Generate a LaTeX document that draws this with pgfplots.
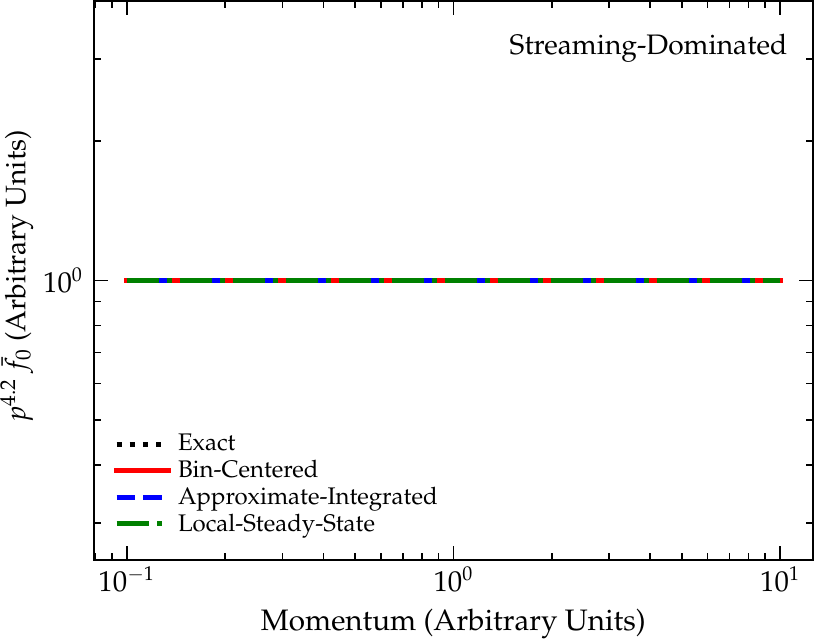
\documentclass[border=0pt]{standalone}
\usepackage[T1]{fontenc}
\usepackage{mathpazo}
\usepackage{pgfplots}
\pgfplotsset{compat=1.18}
\usetikzlibrary{calc}
\definecolor{mplgreen}{RGB}{0,128,0}

\begin{document}
\begin{tikzpicture}
\begin{axis}[
  name=ax,
  scale only axis,
  width=359.5pt, height=279.5pt,
  xmode=log, ymode=log,
  xmin=0.0794, xmax=12.59,
  ymin=0.25, ymax=4,
  xtick={0.1,1,10},
  minor xtick={0.08,0.09,0.2,0.3,0.4,0.5,0.6,0.7,0.8,0.9,2,3,4,5,6,7,8,9},
  ytick={1},
  minor ytick={0.3,0.4,0.5,0.6,0.7,0.8,0.9,2,3},
  tick align=inside,
  xtick pos=both, ytick pos=both,
  major tick length=7pt, minor tick length=3.5pt,
  every tick/.style={black, line width=0.8pt},
  axis line style={line width=1pt},
  ticklabel style={font=\fontsize{14.4}{17}\selectfont},
  yticklabel style={xshift=-2pt},
  xlabel style={font=\fontsize{14.8}{17}\selectfont, yshift=-1.6pt},
  ylabel style={font=\fontsize{14.1}{17}\selectfont, yshift=-2pt, xshift=2pt},
  xlabel={Momentum (Arbitrary Units)},
  ylabel={$p^{4.2}\,\bar{f}_0$ (Arbitrary Units)},
  legend style={at={(0.019,0.031)}, anchor=south west, draw=none, fill=none,
    font=\fontsize{12}{14}\selectfont, cells={anchor=west}, row sep=-0.8pt},
  legend image code/.code={\draw[#1] (0pt,0pt) -- (26pt,0pt); \path (27.5pt,0pt);},
]
\addplot[black, line width=2.5pt, dash pattern=on 2.5pt off 4.1pt] coordinates {(0.1,1) (10,1)};
\addlegendentry{Exact}
\addplot[red, line width=2.5pt, line cap=rect] coordinates {(0.1,1) (10,1)};
\addlegendentry{Bin-Centered}
\addplot[blue, line width=2.5pt, dash pattern=on 9.25pt off 4pt] coordinates {(0.1,1) (10,1)};
\addlegendentry{Approximate-Integrated}
\addplot[mplgreen, line width=2.5pt, dash pattern=on 16.15pt off 4.15pt on 2.35pt off 3.85pt] coordinates {(0.1,1) (10,1)};
\addlegendentry{Local-Steady-State}
\node[anchor=base east, inner sep=0pt, font=\fontsize{14.1}{17}\selectfont] at (rel axis cs:0.965,0.905) {Streaming-Dominated};
\end{axis}
\pgfresetboundingbox
\path[use as bounding box] ($(ax.south west)+(-47pt,-39.5pt)$) rectangle ($(ax.north east)+(0.6pt,0.5pt)$);
\end{tikzpicture}
\end{document}
